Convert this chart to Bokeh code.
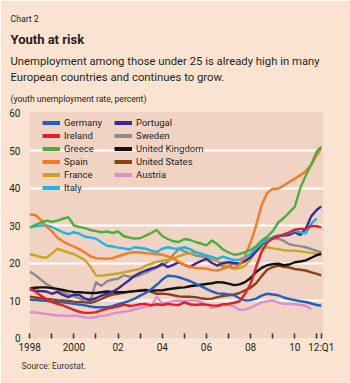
from bokeh.plotting import figure
from bokeh.models import (Range1d, FixedTicker, Legend, LegendItem, Title)
from bokeh.embed import file_html
from bokeh.resources import INLINE

nan = float("nan")

# quarterly time grid 1998 ... 2011, last point is 2012:Q1 (drawn at the "12:Q1" tick)
quarters = [1998 + 0.25 * i for i in range(53)] + [2011.2]

germany = [10.2, 10.1, 10.0, 9.9, 9.7, 9.6, 9.5, 9.3, 9.1, 8.9, 8.7, 8.4, 8.2, 8.2, 8.2, 8.5, 9.0, 9.4, 9.9, 10.5,
           11.3, 12.0, 13.0, 14.2, 15.6, 16.6, 16.5, 16.2, 15.7, 15.2, 14.5, 13.8, 13.1, 12.4, 11.9, 11.8, 11.6, 11.4,
           10.6, 10.0, 10.1, 10.5, 11.3, 11.8, 11.6, 11.4, 10.8, 10.4, 10.1, 9.8, 9.6, 9.2, 8.8, 8.6]
ireland = [13.3, 12.4, 11.3, 10.4, 9.6, 9.1, 8.7, 8.1, 7.5, 7.0, 6.7, 6.7, 6.9, 7.4, 7.8, 8.1, 8.4, 8.9, 8.6, 8.7,
           9.0, 9.1, 8.7, 9.0, 8.8, 9.1, 8.9, 8.8, 9.5, 9.0, 8.8, 9.0, 8.9, 8.7, 8.6, 9.0, 9.1, 9.4, 9.8, 11.8,
           14.5, 19.0, 23.0, 25.5, 26.5, 27.0, 27.6, 28.2, 28.9, 29.1, 29.1, 29.9, 29.8, 29.5]
greece = [29.5, 30.2, 30.8, 31.3, 31.0, 31.3, 31.8, 32.2, 30.0, 29.6, 29.3, 28.8, 28.5, 28.2, 28.4, 28.0, 28.4, 27.2,
          26.8, 26.5, 26.6, 27.3, 28.0, 28.8, 27.2, 26.4, 25.8, 25.6, 26.4, 26.2, 25.6, 25.2, 24.7, 26.0, 25.0, 23.6,
          22.8, 22.2, 22.4, 22.9, 23.5, 24.5, 26.0, 27.0, 28.5, 30.8, 32.0, 33.5, 35.0, 40.0, 43.4, 46.3, 49.8, 51.0]
spain = [33.0, 32.8, 31.5, 29.7, 28.5, 26.8, 25.8, 25.0, 24.4, 23.7, 22.8, 21.8, 21.3, 21.2, 21.1, 21.3, 21.8, 22.3,
         22.7, 22.9, 22.8, 22.6, 22.5, 22.4, 22.2, 21.8, 21.2, 20.3, 19.5, 19.0, 18.7, 18.6, 18.5, 18.1, 18.0, 18.5,
         19.0, 18.6, 19.5, 22.0, 25.5, 30.0, 35.5, 38.7, 39.8, 39.8, 40.7, 41.6, 42.5, 43.4, 44.5, 46.3, 48.8, 50.6]
france = [22.4, 22.0, 21.6, 21.4, 22.5, 23.8, 23.3, 22.8, 22.4, 21.6, 20.8, 19.0, 16.7, 16.6, 16.8, 17.0, 17.2, 17.5,
          17.8, 18.1, 18.4, 19.3, 19.8, 20.3, 20.6, 20.8, 21.3, 21.8, 22.3, 22.6, 22.9, 22.5, 21.9, 21.2, 20.5, 19.7,
          19.0, 18.5, 18.6, 19.3, 21.0, 23.0, 24.0, 24.2, 23.9, 23.7, 23.4, 23.3, 23.3, 23.1, 22.9, 22.7, 22.5, 22.0]
italy = [29.5, 29.8, 30.0, 30.0, 29.6, 28.9, 28.2, 27.7, 28.2, 27.8, 27.0, 26.8, 26.5, 25.5, 24.6, 24.4, 24.1, 23.9,
         23.6, 24.2, 24.0, 23.8, 23.3, 22.9, 23.8, 24.2, 23.9, 23.8, 24.2, 23.7, 22.9, 22.5, 22.0, 21.6, 21.1, 21.7,
         21.2, 20.8, 20.9, 21.5, 22.5, 23.9, 25.2, 26.2, 26.7, 27.1, 27.6, 28.0, 28.6, 28.2, 27.9, 30.5, 31.9, nan]
portugal = [13.0, 12.6, 12.5, 12.4, 11.8, 12.3, 11.5, 10.9, 11.6, 11.5, 10.5, 10.2, 10.6, 11.3, 11.8, 12.3, 13.2, 14.3,
            15.4, 16.6, 17.4, 18.0, 18.5, 18.9, 19.8, 18.9, 19.5, 20.2, 19.5, 18.9, 19.8, 20.5, 21.1, 20.0, 19.3, 20.0,
            20.2, 20.0, 19.8, 20.6, 21.5, 23.2, 24.8, 26.2, 26.8, 27.3, 27.3, 27.5, 28.2, 27.5, 29.2, 32.5, 34.2, 35.1]
sweden = [17.7, 16.8, 15.6, 14.4, 13.6, 12.9, 12.3, 11.6, 11.1, 10.6, 9.6, 10.0, 14.9, 13.9, 15.1, 15.6, 15.8, 16.7,
          16.4, 16.3, 16.8, 17.4, 18.1, 18.9, 19.4, 20.3, 22.2, 23.8, 23.1, 22.6, 22.0, 21.8, 21.4, 21.0, 20.5, 18.9,
          19.3, 19.8, 19.7, 20.5, 21.5, 23.4, 25.3, 26.3, 26.5, 26.5, 25.9, 25.0, 24.7, 24.5, 24.2, 23.7, 23.2, 22.9]
united_kingdom = [13.2, 13.4, 13.5, 13.5, 13.3, 13.1, 12.8, 12.5, 12.3, 12.2, 12.1, 12.0, 12.0, 12.2, 12.4, 12.3, 12.2,
                  12.2, 12.3, 12.5, 12.6, 12.7, 12.6, 12.7, 12.7, 13.0, 13.2, 13.4, 13.5, 13.8, 14.0, 14.2, 14.4, 14.6,
                  14.9, 14.8, 14.5, 14.1, 14.3, 14.9, 16.0, 17.6, 18.7, 19.4, 19.7, 19.8, 19.4, 19.6, 20.2, 20.4, 20.7,
                  21.4, 22.1, 22.5]
united_states = [11.0, 10.8, 10.6, 10.4, 10.3, 10.1, 10.0, 9.9, 9.7, 9.6, 9.5, 9.4, 9.8, 10.4, 11.1, 11.6, 11.8, 12.1,
                 12.4, 12.5, 12.7, 12.9, 12.3, 11.8, 11.8, 11.7, 11.4, 11.1, 11.0, 11.0, 10.9, 10.6, 10.4, 10.5, 10.9,
                 11.2, 11.4, 11.6, 12.0, 12.7, 13.4, 14.6, 16.5, 18.2, 18.9, 19.3, 19.0, 18.8, 18.4, 18.2, 18.0, 17.5,
                 17.1, 16.7]
austria = [6.9, 6.8, 6.6, 6.4, 6.2, 6.0, 6.0, 5.9, 6.0, 5.8, 5.5, 5.4, 5.6, 5.9, 6.1, 6.5, 6.8, 7.0, 7.2, 7.6, 8.0,
           8.4, 8.6, 11.0, 9.2, 9.5, 9.9, 10.0, 9.8, 10.0, 10.0, 9.7, 8.8, 8.0, 8.6, 8.8, 8.8, 8.4, 7.5, 7.6, 8.1,
           8.8, 9.5, 9.8, 10.0, 9.5, 9.1, 9.1, 9.0, 8.8, 8.6, 7.7, nan, nan]

year_ticks = [1998, 1999, 2000, 2001, 2002, 2003, 2004, 2005, 2006, 2007, 2008, 2009, 2010, 2011, 2011.2]
year_labels = ["1998", "", "2000", "", "02", "", "04", "", "06", "", "08", "", "10", "", "12:Q1"]
y_ticks = [0, 10, 20, 30, 40, 50, 60]

series = [
    ("Germany", germany, "#1f5fc0"),
    ("Ireland", ireland, "#e41e26"),
    ("Greece", greece, "#4cae3c"),
    ("Spain", spain, "#f47b20"),
    ("France", france, "#c9a526"),
    ("Italy", italy, "#1db4e8"),
    ("Portugal", portugal, "#3b2a96"),
    ("Sweden", sweden, "#8c8c8c"),
    ("United Kingdom", united_kingdom, "#111111"),
    ("United States", united_states, "#8a4214"),
    ("Austria", austria, "#dc8fcb"),
]
draw_order = ["Austria", "Sweden", "France", "United States", "United Kingdom", "Portugal",
              "Italy", "Spain", "Greece", "Germany", "Ireland"]

FONT = "Roboto"
OUTER = "#fae4d1"
INNER = "#f1d3c4"
TXT = "#231f20"

p = figure(width=350, height=383, output_backend="svg", toolbar_location=None,
           x_range=Range1d(1997.99, 2011.3), y_range=Range1d(-0.13, 60.4),
           min_border_left=29, min_border_right=27, min_border_top=111, min_border_bottom=45)
p.background_fill_color = INNER
p.border_fill_color = OUTER
p.outline_line_color = None

lookup = {name: (vals, col) for name, vals, col in series}
for name in draw_order:
    vals, col = lookup[name]
    p.line(quarters, vals, line_color=col, line_width=2.4, line_join="round")

# legend swatches (thicker lines, no data drawn)
legend_r = {}
for name, vals, col in series:
    legend_r[name] = p.line([nan], [nan], line_color=col, line_width=4)

def make_legend(names, loc):
    lg = Legend(items=[LegendItem(label=n, renderers=[legend_r[n]]) for n in names],
                location=loc, background_fill_alpha=0, border_line_alpha=0,
                padding=0, margin=0, spacing=0, glyph_width=18, glyph_height=13,
                label_height=13, label_standoff=4, label_text_font=FONT,
                label_text_font_size="9.5px", label_text_color=TXT)
    p.add_layout(lg)

make_legend(["Germany", "Ireland", "Greece", "Spain", "France", "Italy"], (13, 144))
make_legend(["Portugal", "Sweden", "United Kingdom", "United States", "Austria"], (85, 157))

# axes
p.xaxis.ticker = FixedTicker(ticks=year_ticks)
p.xaxis.major_label_overrides = {t: l for t, l in zip(year_ticks, year_labels)}
p.xaxis.axis_line_color = None
p.xaxis.major_tick_in = 5
p.xaxis.major_tick_out = 0
p.xaxis.major_tick_line_color = "#333333"
p.xaxis.major_tick_line_width = 1.5
p.xaxis.minor_tick_line_color = None
p.xaxis.major_label_text_font = FONT
p.xaxis.major_label_text_font_size = "10px"
p.xaxis.major_label_text_color = TXT
p.xaxis.major_label_standoff = 3

p.yaxis.ticker = FixedTicker(ticks=y_ticks)
p.yaxis.axis_line_color = None
p.yaxis.major_tick_line_color = None
p.yaxis.minor_tick_line_color = None
p.yaxis.major_label_text_font = FONT
p.yaxis.major_label_text_font_size = "10px"
p.yaxis.major_label_text_color = TXT
p.yaxis.major_label_standoff = 3

p.xgrid.grid_line_color = None
p.ygrid.ticker = FixedTicker(ticks=[10, 20, 30, 40, 50])
p.ygrid.grid_line_color = "white"
p.ygrid.grid_line_width = 2.2

def add_title(txt, size, standoff, place="above", bold=False, offset=-19, color=TXT):
    p.add_layout(Title(text=txt, align="left", offset=offset, standoff=standoff,
                       vertical_align="middle",
                       text_font=FONT, text_font_size=size,
                       text_font_style="bold" if bold else "normal",
                       text_color=color), place)

# stacked from the frame outward
add_title("(youth unemployment rate, percent)", "8.6px", 14)
add_title("European countries and continues to grow.", "11.3px", 1)
add_title("Unemployment among those under 25 is already high in many", "11.3px", 1)
add_title("Youth at risk", "13px", 11, bold=True)
add_title("Chart 2", "8.7px", 2)
add_title("Source: Eurostat.", "8.5px", 8, place="below", offset=-8, color="#333333")

open("out.html", "w").write(file_html(p, INLINE))
